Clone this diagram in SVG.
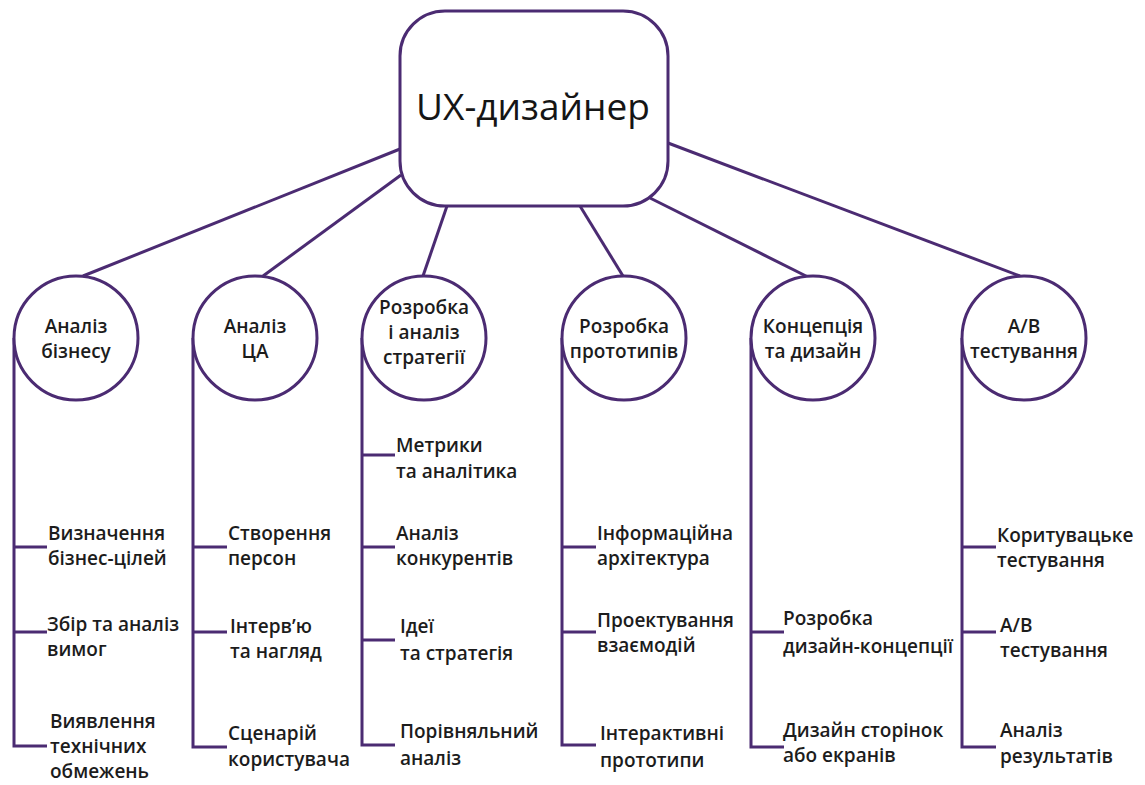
<svg xmlns="http://www.w3.org/2000/svg" width="1145" height="785" viewBox="0 0 1145 785">
  <style>
    .ln { stroke: #4b2b72; stroke-width: 3; fill: none; stroke-linecap: butt; }
    .nd { stroke: #4b2b72; stroke-width: 3; fill: #ffffff; }
    .t { font-family: "Open Sans", "Noto Sans", sans-serif; font-size: 19px; font-weight: 600; fill: #1c1c1c; }
    .c { text-anchor: middle; }
    .root { font-family: "Open Sans", "Noto Sans", sans-serif; font-size: 37px; fill: #151515; text-anchor: middle; }
  </style>
  <rect width="1145" height="785" fill="#ffffff"/>

  <!-- connectors: root to categories, spines and leaf branches -->
  <g id="connectors" class="ln">
    <line x1="400" y1="149" x2="83" y2="276"/>
    <line x1="401" y1="175" x2="263" y2="276"/>
    <line x1="447" y1="206" x2="423" y2="276"/>
    <line x1="580" y1="206" x2="623" y2="276"/>
    <line x1="650" y1="198" x2="808" y2="277"/>
    <line x1="668" y1="143" x2="1020" y2="276"/>

    <!-- spine 1 -->
    <path d="M14 338 V746 H47 M14 547 H47 M14 632 H47"/>
    <!-- spine 2 -->
    <path d="M193 338 V747 H227 M193 547 H227 M193 632 H227"/>
    <!-- spine 3 -->
    <path d="M362 338 V745 H395 M362 455 H395 M362 547 H395 M362 640 H395"/>
    <!-- spine 4 -->
    <path d="M562 338 V745 H596 M562 547 H596 M562 632 H596"/>
    <!-- spine 5 -->
    <path d="M751 338 V747 H784 M751 632 H784"/>
    <!-- spine 6 -->
    <path d="M962 338 V747 H996 M962 547 H996 M962 632 H996"/>
  </g>

  <g id="root">
    <rect class="nd" x="400" y="11" width="268" height="195" rx="45" ry="45"/>
    <text class="root" x="533" y="120">UX-дизайнер</text>
  </g>

  <g id="cat-business">
    <circle class="nd" cx="76" cy="338" r="62"/>
    <text class="t c" x="76" y="333">Аналіз</text>
    <text class="t c" x="76" y="358">бізнесу</text>
  </g>
  <g id="cat-audience">
    <circle class="nd" cx="255" cy="338" r="62"/>
    <text class="t c" x="255" y="333">Аналіз</text>
    <text class="t c" x="255" y="358">ЦА</text>
  </g>
  <g id="cat-strategy">
    <circle class="nd" cx="424" cy="338" r="62"/>
    <text class="t c" x="424" y="314">Розробка</text>
    <text class="t c" x="424" y="339">і аналіз</text>
    <text class="t c" x="424" y="364">стратегії</text>
  </g>
  <g id="cat-prototypes">
    <circle class="nd" cx="624" cy="338" r="62"/>
    <text class="t c" x="624" y="333">Розробка</text>
    <text class="t c" x="624" y="358">прототипів</text>
  </g>
  <g id="cat-design">
    <circle class="nd" cx="813" cy="338" r="62"/>
    <text class="t c" x="813" y="333">Концепція</text>
    <text class="t c" x="813" y="358">та дизайн</text>
  </g>
  <g id="cat-abtest">
    <circle class="nd" cx="1024" cy="338" r="62"/>
    <text class="t c" x="1024" y="333">А/В</text>
    <text class="t c" x="1024" y="358">тестування</text>
  </g>

  <!-- leaves, column 1 -->
  <g id="leaf-goals"><text class="t" x="48" y="540">Визначення</text><text class="t" x="48" y="565">бізнес-цілей</text></g>
  <g id="leaf-requirements"><text class="t" x="47" y="631">Збір та аналіз</text><text class="t" x="47" y="656">вимог</text></g>
  <g id="leaf-constraints"><text class="t" x="50" y="728">Виявлення</text><text class="t" x="50" y="753">технічних</text><text class="t" x="50" y="778">обмежень</text></g>

  <!-- leaves, column 2 -->
  <g id="leaf-personas"><text class="t" x="228" y="540">Створення</text><text class="t" x="228" y="565">персон</text></g>
  <g id="leaf-interviews"><text class="t" x="230" y="633">Інтерв’ю</text><text class="t" x="230" y="658">та нагляд</text></g>
  <g id="leaf-scenario"><text class="t" x="228" y="740">Сценарій</text><text class="t" x="228" y="766">користувача</text></g>

  <!-- leaves, column 3 -->
  <g id="leaf-metrics"><text class="t" x="396" y="452">Метрики</text><text class="t" x="396" y="478">та аналітика</text></g>
  <g id="leaf-competitors"><text class="t" x="396" y="540">Аналіз</text><text class="t" x="396" y="565">конкурентів</text></g>
  <g id="leaf-ideas"><text class="t" x="400" y="633">Ідеї</text><text class="t" x="400" y="660">та стратегія</text></g>
  <g id="leaf-comparative"><text class="t" x="400" y="738">Порівняльний</text><text class="t" x="400" y="765">аналіз</text></g>

  <!-- leaves, column 4 -->
  <g id="leaf-ia"><text class="t" x="597" y="540">Інформаційна</text><text class="t" x="597" y="565">архітектура</text></g>
  <g id="leaf-interaction"><text class="t" x="597" y="627">Проектування</text><text class="t" x="597" y="652">взаємодій</text></g>
  <g id="leaf-interactive"><text class="t" x="600" y="740">Інтерактивні</text><text class="t" x="600" y="767">прототипи</text></g>

  <!-- leaves, column 5 -->
  <g id="leaf-concept"><text class="t" x="783" y="625">Розробка</text><text class="t" x="783" y="653">дизайн-концепції</text></g>
  <g id="leaf-screens"><text class="t" x="783" y="737">Дизайн сторінок</text><text class="t" x="783" y="762">або екранів</text></g>

  <!-- leaves, column 6 -->
  <g id="leaf-usertest"><text class="t" x="997" y="542">Коритувацьке</text><text class="t" x="997" y="567">тестування</text></g>
  <g id="leaf-ab"><text class="t" x="1000" y="632">А/В</text><text class="t" x="1000" y="657">тестування</text></g>
  <g id="leaf-results"><text class="t" x="1000" y="737">Аналіз</text><text class="t" x="1000" y="763">результатів</text></g>
</svg>
